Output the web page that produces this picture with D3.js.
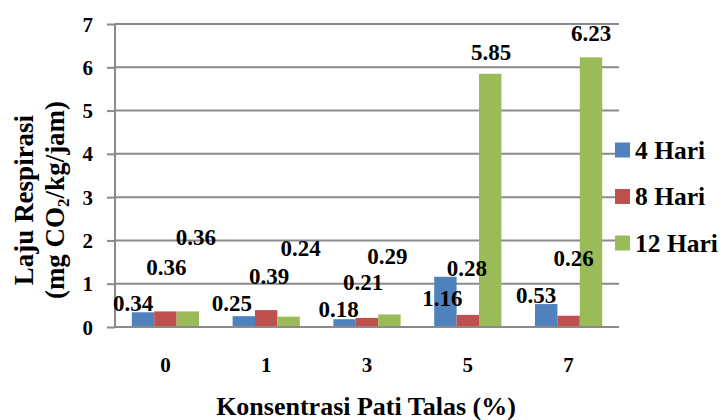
<!DOCTYPE html>
<html>
<head>
<meta charset="utf-8">
<script src="https://cdn.jsdelivr.net/npm/d3@7/dist/d3.min.js"></script>
<style>
  html, body { margin: 0; padding: 0; background: #fff; }
</style>
</head>
<body>
<svg id="chart" width="726" height="420"></svg>
<script>
// Respiration rate by taro starch concentration, per storage day
const categories = ["0", "1", "3", "5", "7"];
const seriesNames = ["4 Hari", "8 Hari", "12 Hari"];
const hari4 = [0.34, 0.25, 0.18, 1.16, 0.53];
const hari8 = [0.36, 0.39, 0.21, 0.28, 0.26];
const hari12 = [0.36, 0.24, 0.29, 5.85, 6.23];
const yTicks = [0, 1, 2, 3, 4, 5, 6, 7];
const colors = ["#4F81BD", "#C0504D", "#9BBB59"];

// Hand-placed value label offsets (px) from each bar's top centre: [series][category] -> [dx, dy]
const labelNudge = [
  [[-10, -9], [-12, -13], [-6, -10], [-3, 21], [-10, -9]],
  [[1, -44], [3, -34], [-4, -36], [-1, -47], [5, -58]],
  [[8, -74], [12, -69], [-2, -58], [1, -22], [0, -24]]
];

const FONT = "Liberation Serif, Times New Roman, serif";
const seriesValues = [hari4, hari8, hari12];
const svg = d3.select("#chart")
  .attr("font-family", FONT).attr("font-weight", "bold");

const plot = { left: 115, right: 619, top: 24, bottom: 327 };

const x = d3.scaleBand().domain(categories).range([plot.left, plot.right])
  .paddingInner(1 / 3).paddingOuter(1 / 6);
const xs = d3.scaleBand().domain(seriesNames).range([0, x.bandwidth()]);
const y = d3.scaleLinear().domain([0, 7]).range([plot.bottom, plot.top]);

const gridColor = "#8a8a8a";

// Horizontal gridlines
svg.append("g").selectAll("line").data(yTicks.filter(t => t > 0)).join("line")
  .attr("x1", plot.left).attr("x2", plot.right)
  .attr("y1", d => y(d)).attr("y2", d => y(d))
  .attr("stroke", gridColor).attr("stroke-width", 2);

// Y axis with outward ticks
const yAxis = d3.axisLeft(y).tickValues(yTicks).tickSize(8).tickPadding(14).tickFormat(d3.format("d"));
const gy = svg.append("g").attr("transform", `translate(${plot.left},0)`).call(yAxis)
  .attr("font-family", FONT).attr("font-size", 21);
gy.select(".domain").attr("stroke", gridColor).attr("stroke-width", 2)
  .attr("d", `M0,${plot.top}V${plot.bottom}`);
gy.selectAll(".tick line").attr("stroke", gridColor).attr("stroke-width", 2);
gy.selectAll(".tick text").attr("fill", "#000").attr("dy", "0.34em");

// Bars
const bars = svg.append("g");
seriesValues.forEach((vals, si) => {
  bars.selectAll(null).data(vals).join("rect")
    .attr("x", (d, i) => x(categories[i]) + xs(seriesNames[si]))
    .attr("width", xs.bandwidth())
    .attr("y", d => y(d))
    .attr("height", d => y(0) - y(d))
    .attr("fill", colors[si]);
});

// X axis baseline and category labels
const xAxis = d3.axisBottom(x).tickSize(0).tickPadding(30);
const gx = svg.append("g").attr("transform", `translate(0,${plot.bottom})`).call(xAxis)
  .attr("font-family", FONT).attr("font-size", 21);
gx.select(".domain").attr("stroke", gridColor).attr("stroke-width", 2)
  .attr("d", `M${plot.left},0H${plot.right}`);
gx.selectAll(".tick text").attr("fill", "#000");

// Value labels
const labels = svg.append("g").attr("font-size", 23).attr("text-anchor", "middle");
seriesValues.forEach((vals, si) => {
  labels.selectAll(null).data(vals).join("text")
    .attr("x", (d, i) => x(categories[i]) + xs(seriesNames[si]) + xs.bandwidth() / 2 + labelNudge[si][i][0])
    .attr("y", (d, i) => y(d) + labelNudge[si][i][1])
    .attr("dy", "0.35em")
    .text(d => d3.format(".2f")(d));
});

// Legend
const legend = svg.append("g").attr("font-size", 25.5);
seriesNames.forEach((name, si) => {
  const cy = 150 + si * 46.5;
  legend.append("rect").attr("x", 615).attr("y", cy - 7.5).attr("width", 15).attr("height", 15).attr("fill", colors[si]);
  legend.append("text").attr("x", 635).attr("y", cy).attr("dy", "0.35em").text(name);
});

// Axis titles
svg.append("text").attr("x", 366).attr("y", 415).attr("text-anchor", "middle")
  .attr("font-size", 26).text("Konsentrasi Pati Talas (%)");

const yTitle = svg.append("g").attr("transform", "translate(0,200) rotate(-90)")
  .attr("font-size", 27).attr("text-anchor", "middle");
yTitle.append("text").attr("x", 0).attr("y", 33).text("Laju Respirasi");
const t2 = yTitle.append("text").attr("x", 0).attr("y", 64);
t2.append("tspan").text("(mg CO");
t2.append("tspan").attr("font-size", 17).attr("dy", 5).text("2");
t2.append("tspan").attr("dy", -5).text("/kg/jam)");
</script>
</body>
</html>
